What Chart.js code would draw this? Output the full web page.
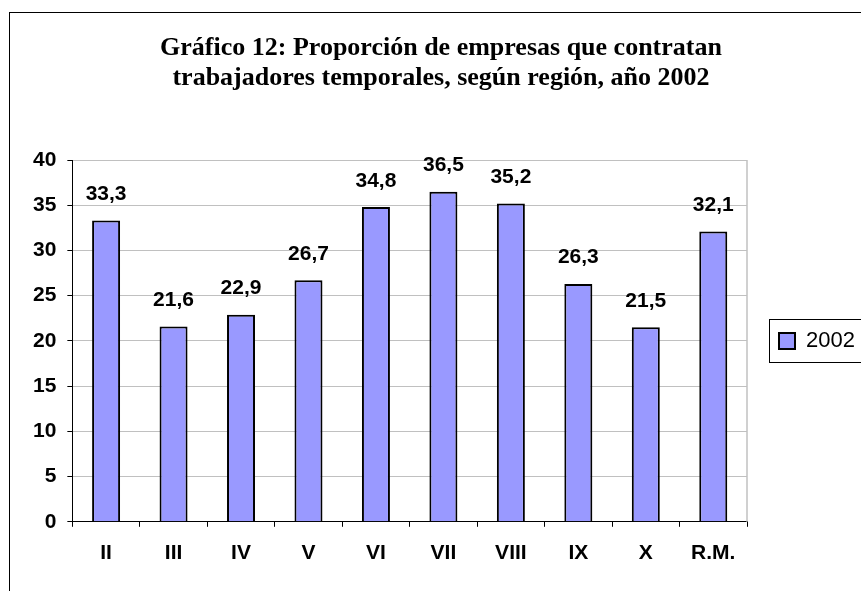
<!DOCTYPE html>
<html>
<head>
<meta charset="utf-8">
<script src="https://cdn.jsdelivr.net/npm/chart.js@4"></script>
<style>
  html, body { margin:0; padding:0; background:#fff; overflow:hidden; }
  #wrap { width:861px; height:591px; position:relative; }
</style>
</head>
<body>
<div id="wrap"><canvas id="chart" width="861" height="591"></canvas></div>
<script>
const REGIONS = ['II','III','IV','V','VI','VII','VIII','IX','X','R.M.'];
const VALUES  = [33.3, 21.6, 22.9, 26.7, 34.8, 36.5, 35.2, 26.3, 21.5, 32.1];
const SERIES  = '2002';
const TITLE   = ['Gráfico 12: Proporción de empresas que contratan',
                 'trabajadores temporales, según región, año 2002'];

const SANS  = "'Liberation Sans', Arial, sans-serif";
const SERIF = "'Liberation Serif', 'Times New Roman', serif";

// outer frame, plot right edge, legend frame
const framePlugin = {
  id:'frame',
  beforeDraw(chart) {
    const c = chart.ctx;
    c.save();
    c.strokeStyle = '#000'; c.lineWidth = 1;
    c.strokeRect(9.5, 12.5, 900, 700);
    c.restore();
  },
  afterDraw(chart) {
    const c = chart.ctx, a = chart.chartArea;
    c.save();
    c.strokeStyle = '#c0c0c0'; c.lineWidth = 1.5;
    c.beginPath(); c.moveTo(a.right, a.top); c.lineTo(a.right, a.bottom); c.stroke();
    const hb = chart.legend.legendHitBoxes[0];
    if (hb) {
      c.strokeStyle = '#000'; c.lineWidth = 1;
      c.strokeRect(Math.round(hb.left - 10) + .5, Math.round(hb.top - 11) + .5, hb.width + 40, hb.height + 21);
    }
    c.restore();
  }
};

// value labels above bars, decimal comma
const valuePlugin = {
  id:'values',
  afterDatasetsDraw(chart) {
    const c = chart.ctx;
    const meta = chart.getDatasetMeta(0);
    c.save();
    c.font = `bold 21px ${SANS}`;
    c.fillStyle = '#000';
    c.textAlign = 'center';
    c.textBaseline = 'alphabetic';
    meta.data.forEach((bar, i) => {
      c.fillText(VALUES[i].toFixed(1).replace('.', ','), bar.x, bar.y - 20.5);
    });
    c.restore();
  }
};

new Chart(document.getElementById('chart'), {
  type:'bar',
  data:{
    labels: REGIONS,
    datasets:[{
      label: SERIES, data: VALUES,
      backgroundColor:'#9999ff', borderColor:'#000', borderWidth:2,
      barPercentage:.415, categoryPercentage:1
    }]
  },
  options:{
    responsive:false, animation:false,
    layout:{ padding:{ left:22, right:1, top:0, bottom:11 } },
    plugins:{
      title:{ display:true, text:TITLE, color:'#000',
        font:{ family:SERIF, size:26, weight:'bold', lineHeight:1.154 },
        padding:{ top:33, bottom:67 } },
      legend:{ display:true, position:'right', fullSize:false, maxWidth:113,
        labels:{ color:'#000', font:{ family:SANS, size:22 }, boxWidth:16, boxHeight:16, padding:32 } },
      tooltip:{ enabled:false }
    },
    scales:{
      x:{
        grid:{ drawOnChartArea:false, tickColor:'#000', tickLength:5, offset:true },
        border:{ color:'#000', width:1 },
        ticks:{ color:'#000', padding:14, font:{ family:SANS, size:21, weight:'bold' } }
      },
      y:{
        min:0, max:40,
        grid:{ color: ctx => ctx.tick && ctx.tick.value === 0 ? '#000' : '#c0c0c0', tickColor:'#000', tickLength:5 },
        border:{ color:'#000', width:1 },
        ticks:{ stepSize:5, color:'#000', padding:11, font:{ family:SANS, size:21, weight:'bold' } }
      }
    }
  },
  plugins:[framePlugin, valuePlugin]
});
</script>
</body>
</html>
